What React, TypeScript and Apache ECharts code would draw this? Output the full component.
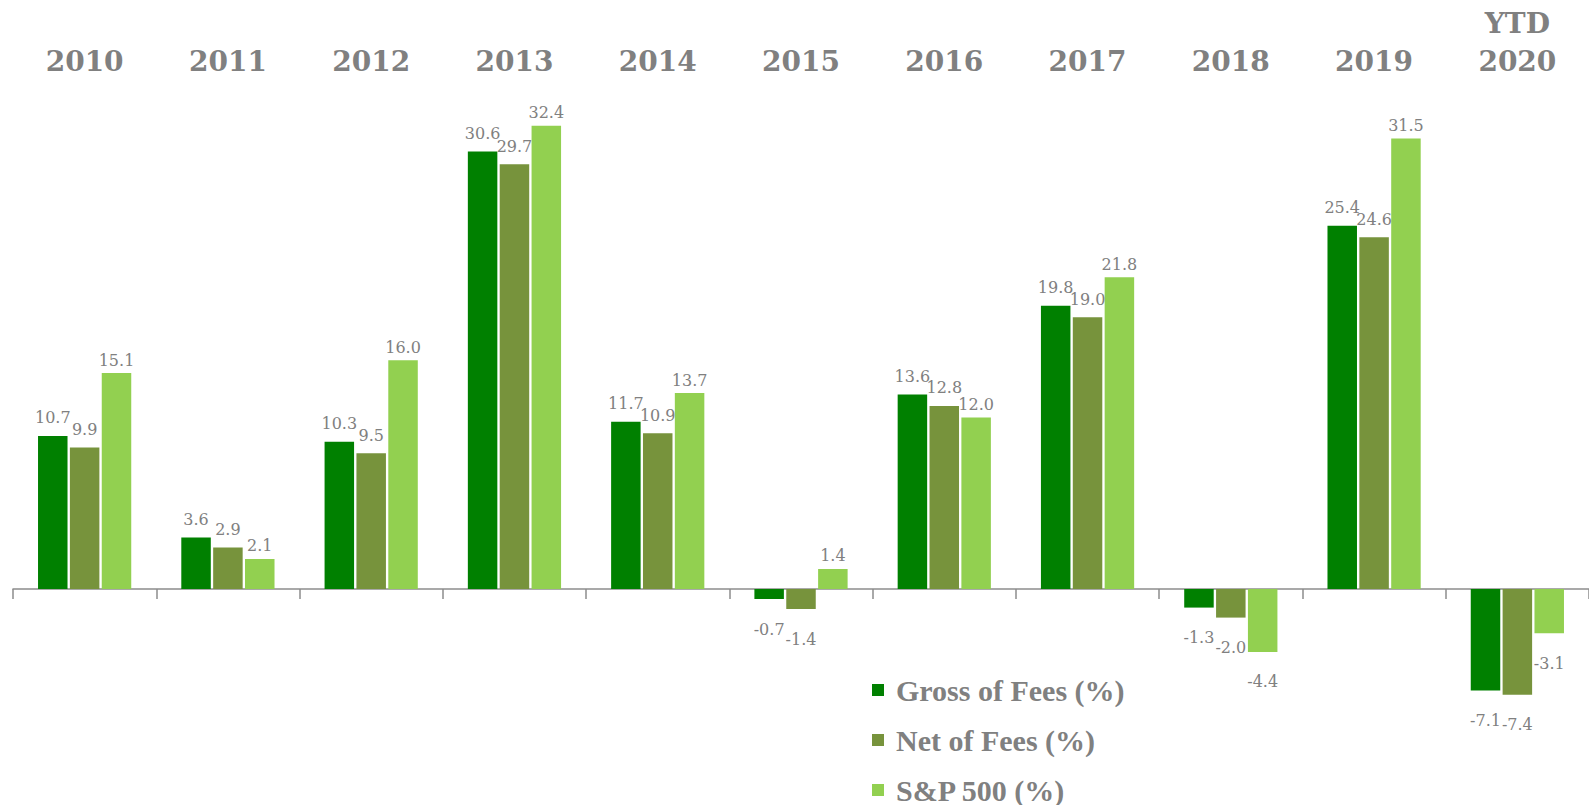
import React, { useEffect, useRef } from "react";
import * as echarts from "echarts";

const categories = ["2010", "2011", "2012", "2013", "2014", "2015", "2016", "2017", "2018", "2019", "YTD\n2020"];
const grossOfFees = [10.7, 3.6, 10.3, 30.6, 11.7, -0.7, 13.6, 19.8, -1.3, 25.4, -7.1];
const netOfFees = [9.9, 2.9, 9.5, 29.7, 10.9, -1.4, 12.8, 19.0, -2.0, 24.6, -7.4];
const sp500 = [15.1, 2.1, 16.0, 32.4, 13.7, 1.4, 12.0, 21.8, -4.4, 31.5, -3.1];
const seriesNames = ["Gross of Fees (%)", "Net of Fees (%)", "S&P 500 (%)"];
const seriesColors = ["#008000", "#77933C", "#92D050"];

const GRAY = "#808080";

export default function App() {
  const ref = useRef<HTMLDivElement>(null);
  useEffect(() => {
    if (!ref.current) return;
    const chart = echarts.init(ref.current, undefined, { renderer: "svg" });
    const mk = (name: string, values: number[], color: string, topDist: number) => ({
      name,
      type: "bar",
      xAxisIndex: 0,
      barWidth: 29.5,
      barGap: "8%",
      itemStyle: { color },
      data: values.map((v) => ({
        value: v,
        label: { position: v < 0 ? "bottom" : "top", distance: v < 0 ? 22 : topDist },
      })),
      label: {
        show: true,
        fontFamily: "DejaVu Serif",
        fontSize: 16,
        color: GRAY,
        formatter: (p: any) => Number(p.value).toFixed(1),
      },
    });
    chart.setOption({
      animation: false,
      grid: { left: 13, right: 0, top: 88.5, bottom: 73, containLabel: false },
      legend: {
        orient: "vertical",
        left: 872,
        top: 675,
        padding: 0,
        itemWidth: 12,
        itemHeight: 12,
        itemGap: 20,
        icon: "rect",
        textStyle: {
          fontFamily: "Liberation Serif",
          fontWeight: "bold",
          fontSize: 30,
          color: GRAY,
          lineHeight: 30,
          padding: [0, 0, 0, 7],
        },
        data: seriesNames,
      },
      xAxis: [
        {
          type: "category",
          data: categories,
          position: "bottom",
          axisLine: { onZero: true, lineStyle: { color: "#8c8c8c", width: 1.5 } },
          axisTick: { show: true, length: 10, lineStyle: { color: "#8c8c8c", width: 1.5 } },
          axisLabel: { show: false },
        },
        {
          type: "category",
          data: categories,
          position: "top",
          axisLine: { show: false },
          axisTick: { show: false },
          axisLabel: {
            interval: 0,
            margin: 8,
            fontFamily: "DejaVu Serif",
            fontWeight: "bold",
            fontSize: 28,
            lineHeight: 38,
            color: GRAY,
          },
        },
      ],
      yAxis: {
        type: "value",
        min: -10,
        max: 35,
        show: false,
        splitLine: { show: false },
      },
      series: [
        mk(seriesNames[0], grossOfFees, seriesColors[0], 10),
        mk(seriesNames[1], netOfFees, seriesColors[1], 10),
        mk(seriesNames[2], sp500, seriesColors[2], 5),
      ],
    });
    return () => chart.dispose();
  }, []);
  return (
    <div
      ref={ref}
      style={{ position: "absolute", left: 0, top: 0, width: 1589, height: 805, background: "#fff" }}
    />
  );
}
